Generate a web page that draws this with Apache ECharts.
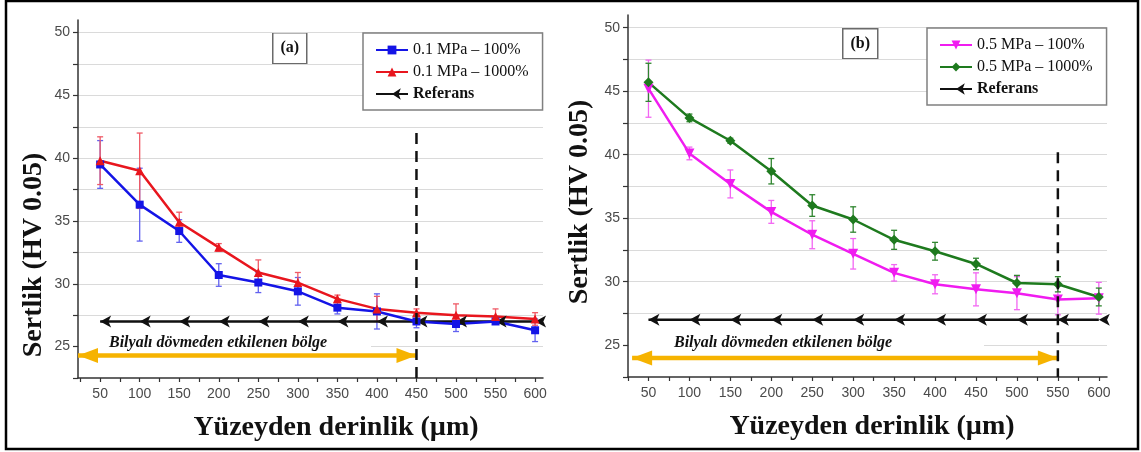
<!DOCTYPE html>
<html>
<head>
<meta charset="utf-8">
<script src="https://cdn.jsdelivr.net/npm/echarts@6/dist/echarts.min.js"></script>
<style>
  html, body { margin: 0; padding: 0; background: #fff; }
  #chart { width: 1141px; height: 452px; }
</style>
</head>
<body>
<div id="chart"></div>
<script>
// Depth from the surface (µm) at which hardness was measured
const depths = [50, 100, 150, 200, 250, 300, 350, 400, 450, 500, 550, 600];
const depthTicks = [25, 50, 75, 100, 125, 150, 175, 200, 225, 250, 275, 300, 325, 350,
                    375, 400, 425, 450, 475, 500, 525, 550, 575, 600];

// (a) 0.1 MPa shot peening
const p01Cov100 = [39.5, 36.3, 34.2, 30.7, 30.1, 29.4, 28.1, 27.8, 27.0, 26.8, 27.0, 26.3];
const p01Cov100Err = [1.9, 2.9, 0.9, 0.9, 0.8, 1.1, 0.5, 1.4, 0.5, 0.6, 0.2, 0.9];
const p01Cov1000 = [39.8, 39.0, 34.9, 32.9, 30.9, 30.1, 28.8, 28.0, 27.7, 27.5, 27.4, 27.2];
const p01Cov1000Err = [1.9, 3.0, 0.8, 0.3, 1.0, 0.8, 0.3, 1.0, 0.3, 0.9, 0.6, 0.5];

// (b) 0.5 MPa shot peening
const p05Cov100 = [45.2, 40.1, 37.7, 35.5, 33.7, 32.2, 30.7, 29.8, 29.4, 29.1, 28.6, 28.7];
const p05Cov100Err = [2.25, 0.5, 1.1, 0.9, 1.1, 1.2, 0.65, 0.75, 1.3, 1.3, 1.2, 1.25];
const p05Cov1000 = [45.7, 42.9, 41.1, 38.7, 36.0, 34.9, 33.3, 32.4, 31.4, 29.9, 29.8, 28.8];
const p05Cov1000Err = [1.5, 0.3, 0.2, 1.0, 0.85, 1.0, 0.75, 0.7, 0.45, 0.6, 0.6, 0.7];

// Untreated reference hardness
const referans = [27, 27, 27, 27, 27, 27, 27, 27, 27, 27, 27, 27];

// Extent of the shot-peening affected zone and its annotation arrow
const zoneA = { start: 22, end: 450, arrowLevel: 24.3, dashTop: 42 };
const zoneB = { start: 30, end: 550, arrowLevel: 24.0, dashTop: 40.2 };

const seriesNames = {
  a1: '0.1 MPa – 100%',
  a2: '0.1 MPa – 1000%',
  b1: '0.5 MPa – 100%',
  b2: '0.5 MPa – 1000%',
  ref: 'Referans'
};

const SERIF = '"Liberation Serif", "Times New Roman", serif';
const SANS = '"Liberation Sans", Arial, sans-serif';
const ZONE_TEXT = 'Bilyalı dövmeden etkilenen bölge';

function pairs(values) { return depths.map((d, i) => [d, values[i]]); }
function bars(values, err) { return depths.map((d, i) => [d, values[i] - err[i], values[i] + err[i]]); }

function errorBars(color) {
  return function (params, api) {
    const x = api.value(0);
    const lo = api.coord([x, api.value(1)]);
    const hi = api.coord([x, api.value(2)]);
    const w = 3;
    const style = { stroke: color, lineWidth: 1.3 };
    return {
      type: 'group',
      children: [
        { type: 'line', shape: { x1: lo[0], y1: lo[1], x2: hi[0], y2: hi[1] }, style },
        { type: 'line', shape: { x1: lo[0] - w, y1: lo[1], x2: lo[0] + w, y2: lo[1] }, style },
        { type: 'line', shape: { x1: hi[0] - w, y1: hi[1], x2: hi[0] + w, y2: hi[1] }, style }
      ]
    };
  };
}

function errorSeries(idx, values, err, color) {
  return {
    type: 'custom', xAxisIndex: idx, yAxisIndex: idx,
    renderItem: errorBars(color), encode: { x: 0, y: [1, 2] },
    data: bars(values, err), silent: true, z: 2
  };
}

function lineSeries(idx, name, values, color, symbol, size, rotate) {
  return {
    type: 'line', name, xAxisIndex: idx, yAxisIndex: idx,
    data: pairs(values), symbol, symbolSize: size, symbolRotate: rotate || 0,
    color, lineStyle: { color, width: 2.5 }, itemStyle: { color },
    showAllSymbol: true, z: 3
  };
}

function refSeries(idx) {
  return {
    type: 'line', name: seriesNames.ref, xAxisIndex: idx, yAxisIndex: idx,
    data: pairs(referans), symbol: 'arrow', symbolSize: [9, 11], symbolRotate: 90,
    color: '#111', lineStyle: { color: '#111', width: 2.5 }, itemStyle: { color: '#111' },
    z: 3
  };
}

function boundarySeries(idx, zone) {
  return {
    type: 'line', xAxisIndex: idx, yAxisIndex: idx, silent: true,
    data: [[zone.end, zone.dashTop], [zone.end, 22.5]], symbol: 'none',
    lineStyle: { color: '#111', width: 2.5, type: [11, 7] }, z: 5
  };
}

function zoneArrow(idx, zone) {
  const c = '#f6b300';
  return {
    type: 'line', xAxisIndex: idx, yAxisIndex: idx, silent: true, clip: false,
    data: [
      { value: [zone.start, zone.arrowLevel], symbol: 'triangle', symbolSize: [15, 20], symbolRotate: 90, symbolOffset: [10, 0] },
      { value: [zone.end, zone.arrowLevel], symbol: 'triangle', symbolSize: [15, 20], symbolRotate: -90, symbolOffset: [-10, 0] }
    ],
    lineStyle: { color: c, width: 4.5 }, itemStyle: { color: c }, z: 4
  };
}

function depthAxis(gridIndex, min) {
  return {
    type: 'value', gridIndex, min, max: 610,
    axisLine: { show: true, onZero: false, lineStyle: { color: '#333', width: 1.5 } },
    axisTick: { show: true, customValues: depthTicks, length: 4, lineStyle: { color: '#333', width: 1.2 } },
    axisLabel: { customValues: depths, fontSize: 14, color: '#4a4a4a', fontFamily: SANS, margin: 9 },
    splitLine: { show: false }
  };
}

function hardnessAxis(gridIndex) {
  return {
    type: 'value', gridIndex, min: 22.5, max: 51, interval: 2.5,
    axisLine: { show: true, onZero: false, lineStyle: { color: '#333', width: 1.5 } },
    axisTick: { show: true, length: 5, lineStyle: { color: '#333', width: 1.2 } },
    axisLabel: {
      formatter: v => (Math.abs(v % 5) < 1e-6 ? String(v) : ''),
      showMaxLabel: false, fontSize: 14, color: '#4a4a4a', fontFamily: SANS, margin: 8
    },
    splitLine: { show: true, showMinLine: false, showMaxLine: false, lineStyle: { color: '#dadada', width: 1 } }
  };
}

function legend(left, top, names) {
  return {
    left, top, orient: 'vertical',
    data: [names[0], names[1], { name: seriesNames.ref, textStyle: { fontWeight: 'bold' } }],
    itemWidth: 32, itemHeight: 11, itemGap: 6,
    padding: [9, 14, 8, 12],
    borderColor: '#808080', borderWidth: 1.5, backgroundColor: '#fff',
    textStyle: { fontFamily: SERIF, fontSize: 16, color: '#111' },
    selectedMode: false
  };
}

function panelTag(x, y, w, h, text) {
  return {
    type: 'group', left: x, top: y, z: 10,
    children: [
      { type: 'rect', shape: { x: 0, y: 0, width: w, height: h }, style: { fill: '#fff', stroke: '#6a6a6a', lineWidth: 1.5 } },
      { type: 'text', x: w / 2, y: h / 2, style: { text, font: 'bold 16px ' + SERIF, fill: '#111', align: 'center', verticalAlign: 'middle' } }
    ]
  };
}

function zoneLabel(rectX, rectW, textX, y) {
  return [
    { type: 'rect', shape: { x: rectX, y: y - 9, width: rectW, height: 18 }, style: { fill: '#fff' }, z: 1 },
    { type: 'text', x: textX, y, z: 6, style: { text: ZONE_TEXT, font: 'italic bold 16px ' + SERIF, fill: '#111', align: 'left', verticalAlign: 'middle' } }
  ];
}

function axisTitle(x, y, text, vertical) {
  return {
    type: 'text', x, y, rotation: vertical ? Math.PI / 2 : 0, z: 6,
    style: { text, font: 'bold 28px ' + SERIF, fill: '#111', align: 'center', verticalAlign: 'middle' }
  };
}

const chart = echarts.init(document.getElementById('chart'), null, { renderer: 'canvas' });

chart.setOption({
  animation: false,
  backgroundColor: '#fff',
  grid: [
    { left: 78, right: 598, top: 20, bottom: 74 },
    { left: 628, right: 34, top: 15, bottom: 75 }
  ],
  xAxis: [depthAxis(0, zoneA.start), depthAxis(1, 25)],
  yAxis: [hardnessAxis(0), hardnessAxis(1)],
  legend: [
    legend(363, 33, [seriesNames.a1, seriesNames.a2]),
    legend(927, 28, [seriesNames.b1, seriesNames.b2])
  ],
  graphic: [
    { type: 'rect', shape: { x: 6, y: 1, width: 1132, height: 448 }, style: { fill: 'none', stroke: '#000', lineWidth: 2.5 }, z: 20 },
    panelTag(272, 32, 34, 31, '(a)'),
    panelTag(842, 28, 35, 30, '(b)'),
    ...zoneLabel(79, 292, 109, 343),
    ...zoneLabel(629, 355, 674, 343),
    axisTitle(34, 255, 'Sertlik (HV 0.05)', true),
    axisTitle(580, 202, 'Sertlik (HV 0.05)', true),
    axisTitle(336, 428, 'Yüzeyden derinlik (µm)', false),
    axisTitle(872, 427, 'Yüzeyden derinlik (µm)', false)
  ],
  series: [
    refSeries(0),
    errorSeries(0, p01Cov100, p01Cov100Err, '#6262f0'),
    errorSeries(0, p01Cov1000, p01Cov1000Err, '#ef5a66'),
    lineSeries(0, seriesNames.a1, p01Cov100, '#1414e6', 'rect', 8),
    lineSeries(0, seriesNames.a2, p01Cov1000, '#e8161e', 'triangle', 9),
    boundarySeries(0, zoneA),
    zoneArrow(0, zoneA),

    refSeries(1),
    errorSeries(1, p05Cov100, p05Cov100Err, '#f266f2'),
    errorSeries(1, p05Cov1000, p05Cov1000Err, '#2f852f'),
    lineSeries(1, seriesNames.b1, p05Cov100, '#f01cf0', 'triangle', 10, 180),
    lineSeries(1, seriesNames.b2, p05Cov1000, '#1e7a1e', 'diamond', 10),
    boundarySeries(1, zoneB),
    zoneArrow(1, zoneB)
  ]
});
</script>
</body>
</html>
